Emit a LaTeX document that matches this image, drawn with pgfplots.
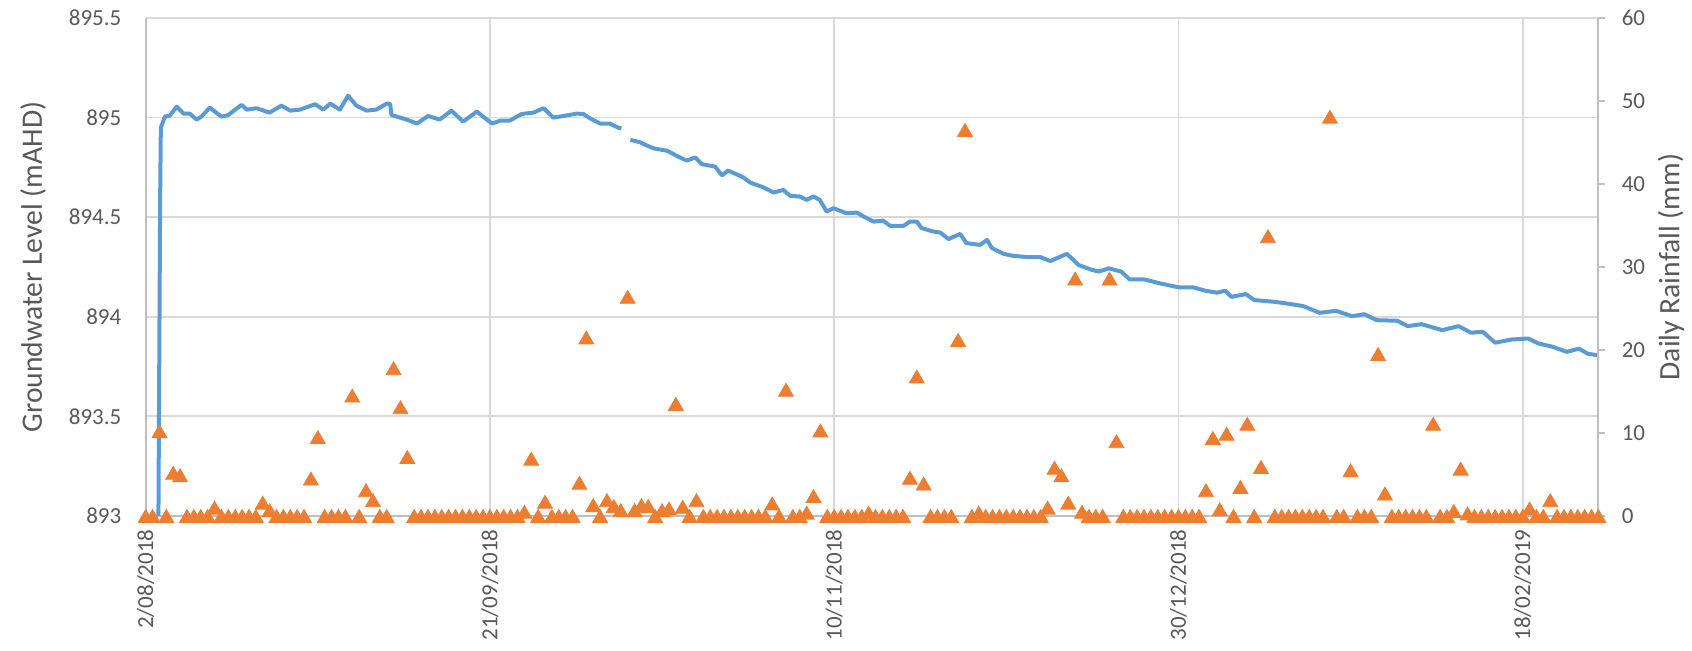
\documentclass[border=0pt]{standalone}
\usepackage{pgfplots}
\pgfplotsset{compat=1.18}
\usepackage{pgfplotstable}
\usepackage{fontspec}
\setmainfont{Carlito}
\definecolor{gridgray}{HTML}{D9D9D9}
\definecolor{axisgray}{HTML}{BFBFBF}
\definecolor{textgray}{HTML}{595959}
\definecolor{xlblue}{HTML}{5B9BD5}
\definecolor{xlorange}{HTML}{ED7D31}

\pgfplotstableread{
day level
1.85 893.0
2.1 894.6
2.2 894.95
2.8 895.005
3.5 895.01
4.5 895.055
5.5 895.02
6.4 895.02
7.4 894.99
8.1 895.005
9.3 895.05
11.0 895.005
12.0 895.013
13.9 895.064
14.7 895.04
16.1 895.047
18.0 895.025
19.7 895.06
21.0 895.035
22.4 895.04
24.6 895.067
25.8 895.04
26.8 895.07
28.2 895.04
29.4 895.11
30.6 895.06
32.1 895.035
33.5 895.04
35.0 895.07
35.5 895.07
35.7 895.013
37.9 894.99
39.4 894.97
41.0 895.008
42.7 894.99
44.4 895.035
46.1 894.98
48.1 895.03
50.3 894.97
51.5 894.985
52.9 894.985
54.6 895.018
56.3 895.025
57.8 895.047
59.2 895.00
60.7 895.008
62.6 895.02
63.6 895.018
64.5 894.997
66.0 894.97
67.4 894.97
68.6 894.95
69.1 894.946
}\gwA

\pgfplotstableread{
day level
70.4 894.888
71.8 894.876
73.7 894.846
75.7 894.834
77.6 894.80
78.6 894.784
79.8 894.80
80.8 894.766
82.7 894.754
83.7 894.71
84.6 894.734
86.8 894.70
87.8 894.674
89.7 894.65
91.2 894.624
92.6 894.637
93.6 894.607
95.0 894.604
96.0 894.587
97.0 894.604
97.9 894.587
98.9 894.528
99.9 894.545
101.8 894.52
103.3 894.523
104.3 894.503
105.7 894.478
107.1 894.483
108.1 894.457
110.1 894.457
111.0 894.478
112.0 894.478
112.7 894.445
114.4 894.428
115.4 894.423
116.6 894.39
118.3 894.416
119.2 894.37
121.2 894.361
122.2 894.386
122.9 894.345
124.6 894.316
126.0 894.306
128.0 894.30
129.9 894.30
131.4 894.28
133.8 894.316
135.5 894.26
137.2 894.238
138.4 894.227
139.9 894.243
141.7 894.227
142.9 894.188
145.0 894.188
147.3 894.168
150.0 894.148
152.1 894.148
153.9 894.131
155.6 894.121
156.8 894.131
157.7 894.10
159.8 894.114
161.0 894.084
164.0 894.075
165.7 894.067
168.1 894.054
170.5 894.02
172.9 894.03
175.2 894.003
177.0 894.013
178.8 893.983
181.8 893.98
183.3 893.953
185.3 893.963
188.3 893.933
190.7 893.953
192.5 893.92
194.2 893.925
196.0 893.87
198.4 893.886
200.8 893.891
202.3 893.866
204.3 893.85
206.4 893.824
208.2 893.84
209.4 893.815
210.9 893.807
}\gwB

\pgfplotstableread{
day mm
0 0
1 0
2 10.2
3 0
4 5.2
5 4.9
6 0
7 0
8 0
9 0
10 1.0
11 0
12 0
13 0
14 0
15 0
16 0
17 1.6
18 0.7
19 0
20 0
21 0
22 0
23 0
24 4.5
25 9.5
26 0
27 0
28 0
29 0
30 14.5
31 0
32 3.1
33 1.9
34 0
35 0
36 17.8
37 13.1
38 7.1
39 0
40 0
41 0
42 0
43 0
44 0
45 0
46 0
47 0
48 0
49 0
50 0
51 0
52 0
53 0
54 0
55 0.5
56 6.9
57 0
58 1.7
59 0
60 0
61 0
62 0
63 4.0
64 21.5
65 1.3
66 0
67 1.9
68 1.2
69 0.7
70 26.4
71 0.7
72 1.3
73 1.2
74 0
75 0.7
76 0.9
77 13.5
78 1.1
79 0
80 1.9
81 0
82 0
83 0
84 0
85 0
86 0
87 0
88 0
89 0
90 0
91 1.5
92 0
93 15.2
94 0
95 0
96 0.4
97 2.4
98 10.3
99 0
100 0
101 0
102 0
103 0
104 0
105 0.4
106 0
107 0
108 0
109 0
110 0
111 4.6
112 16.8
113 3.9
114 0
115 0
116 0
117 0
118 21.2
119 46.5
120 0
121 0.4
122 0
123 0
124 0
125 0
126 0
127 0
128 0
129 0
130 0
131 1.0
132 5.8
133 4.9
134 1.6
135 28.6
136 0.5
137 0
138 0
139 0
140 28.6
141 9.0
142 0
143 0
144 0
145 0
146 0
147 0
148 0
149 0
150 0
151 0
152 0
153 0
154 3.1
155 9.4
156 0.8
157 9.9
158 0
159 3.5
160 11.1
161 0
162 5.9
163 33.7
164 0
165 0
166 0
167 0
168 0
169 0
170 0
171 0
172 48.1
173 0
174 0
175 5.5
176 0
177 0
178 0
179 19.5
180 2.7
181 0
182 0
183 0
184 0
185 0
186 0
187 11.1
188 0
189 0
190 0.6
191 5.7
192 0.3
193 0
194 0
195 0
196 0
197 0
198 0
199 0
200 0
201 0.9
202 0
203 0
204 1.9
205 0
206 0
207 0
208 0
209 0
210 0
211 0
}\rain

\begin{document}
\begin{tikzpicture}
\pgfplotsset{
  common/.style={
    at={(0,0)}, anchor=south west,
    scale only axis, width=726.35pt, height=249pt,
    xmin=0, xmax=211,
    tick label style={font=\fontsize{11.5pt}{13pt}\selectfont, text=textgray},
  }
}
\begin{axis}[
  common,
  ymin=893, ymax=895.5,
  axis x line*=bottom, axis y line*=left,
  axis line style={draw=axisgray, line width=1pt},
  xtick={0,50,100,150,200},
  xticklabels={2/08/2018,21/09/2018,10/11/2018,30/12/2018,18/02/2019},
  xticklabel style={rotate=90, anchor=east, inner sep=0pt},
  xticklabel shift=6.5pt,
  ytick={893,893.5,894,894.5,895,895.5},
  yticklabels={893,893.5,894,894.5,895,895.5},
  yticklabel style={anchor=east, inner sep=0pt},
  yticklabel shift=12pt,
  tick style={draw=none},
  grid=major,
  major grid style={draw=gridgray, line width=0.9pt},
  ylabel={Groundwater Level (mAHD)},
  every axis y label/.style={at={(axis description cs:-0.0775,0.5)}, rotate=90, anchor=center,
    font=\fontsize{14.8pt}{16pt}\selectfont, text=textgray},
]
\addplot[xlblue, line width=2pt, line join=round, mark=none] table[x=day, y=level] {\gwA};
\addplot[xlblue, line width=2pt, line join=round, mark=none] table[x=day, y=level] {\gwB};
\end{axis}
\begin{axis}[
  common,
  ymin=0, ymax=60,
  axis x line=none,
  axis y line*=right,
  y axis line style={draw=axisgray, line width=1pt},
  ytick={0,10,20,30,40,50,60},
  yticklabels={0,10,20,30,40,50,60},
  ytick style={draw=axisgray, line width=1pt},
  tick align=outside, major tick length=3.5pt,
  yticklabel style={anchor=west, inner sep=0pt},
  yticklabel shift=8pt,
  ylabel={Daily Rainfall (mm)},
  every axis y label/.style={at={(axis description cs:1.050,0.5)}, rotate=90, anchor=center,
    font=\fontsize{14.8pt}{16pt}\selectfont, text=textgray},
  clip=false,
]
\addplot[only marks, mark=triangle*, mark size=4.3pt, color=xlorange,
  mark options={fill=xlorange, draw=xlorange, yshift=-1.07pt}] table[x=day, y=mm] {\rain};
\end{axis}
\pgfresetboundingbox
\path[use as bounding box] (-72.85pt,-67.5pt) rectangle (773.15pt,258pt);
\end{tikzpicture}
\end{document}
